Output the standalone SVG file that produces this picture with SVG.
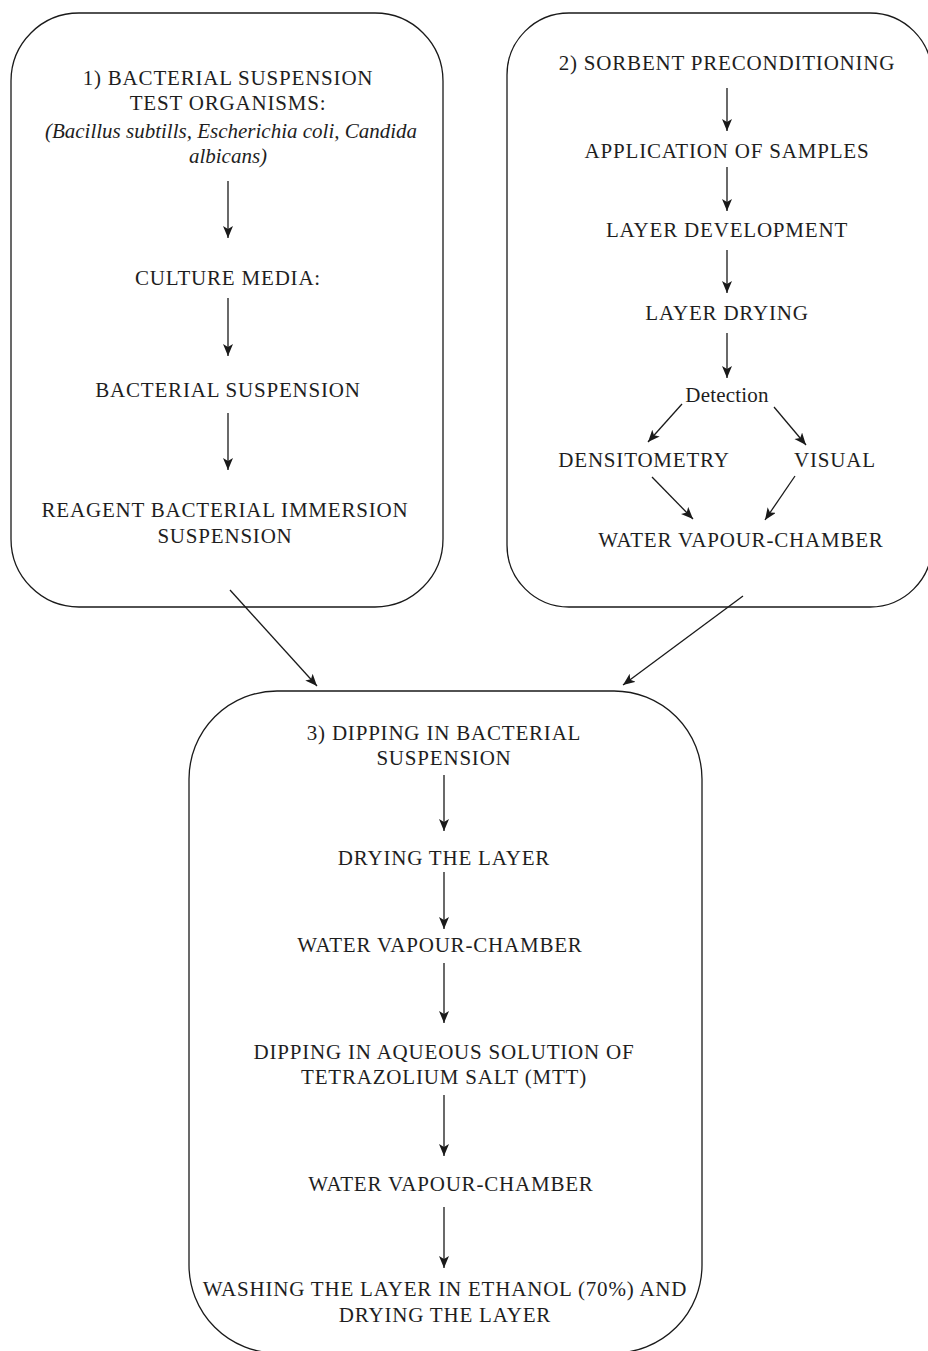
<svg xmlns="http://www.w3.org/2000/svg" width="928" height="1351" viewBox="0 0 928 1351">
<style>
.box{fill:none;stroke:#1a1a1a;stroke-width:1.3}
.t{font-family:"Liberation Serif","Times New Roman",serif;font-size:21px;fill:#1e1e1e;text-anchor:middle;letter-spacing:0.8px}
.it{font-style:italic;letter-spacing:0px}
.det{letter-spacing:0.2px}
.c{stroke:#1a1a1a;stroke-width:1.3;fill:none;marker-end:url(#ah)}
</style>
<defs>
<marker id="ah" markerUnits="userSpaceOnUse" markerWidth="14" markerHeight="12" refX="12" refY="5" orient="auto">
<path d="M0,0 L12,5 L0,10 L3,5 z" fill="#1a1a1a"/>
</marker>
</defs>
<g id="box1">
<rect class="box" x="11" y="13" width="432" height="594" rx="68" ry="68"/>
<text class="t" x="228" y="85">1) BACTERIAL SUSPENSION</text>
<text class="t" x="228" y="110">TEST ORGANISMS:</text>
<text class="t it" x="231" y="138">(Bacillus subtills, Escherichia coli, Candida</text>
<text class="t it" x="228" y="163">albicans)</text>
<text class="t" x="228" y="285">CULTURE MEDIA:</text>
<text class="t" x="228" y="397">BACTERIAL SUSPENSION</text>
<text class="t" x="225" y="517">REAGENT BACTERIAL IMMERSION</text>
<text class="t" x="225" y="543">SUSPENSION</text>
</g>
<g id="box2">
<rect class="box" x="507" y="13" width="425" height="594" rx="62" ry="62"/>
<text class="t" x="727" y="70">2) SORBENT PRECONDITIONING</text>
<text class="t" x="727" y="158">APPLICATION OF SAMPLES</text>
<text class="t" x="727" y="237">LAYER DEVELOPMENT</text>
<text class="t" x="727" y="320">LAYER DRYING</text>
<text class="t det" x="727" y="402">Detection</text>
<text class="t" x="644" y="467">DENSITOMETRY</text>
<text class="t" x="835" y="467">VISUAL</text>
<text class="t" x="741" y="547">WATER VAPOUR-CHAMBER</text>
</g>
<g id="box3">
<rect class="box" x="189" y="691" width="513" height="662" rx="88" ry="88"/>
<text class="t" x="444" y="740">3) DIPPING IN BACTERIAL</text>
<text class="t" x="444" y="765">SUSPENSION</text>
<text class="t" x="444" y="865">DRYING THE LAYER</text>
<text class="t" x="440" y="952">WATER VAPOUR-CHAMBER</text>
<text class="t" x="444" y="1059">DIPPING IN AQUEOUS SOLUTION OF</text>
<text class="t" x="444" y="1084">TETRAZOLIUM SALT (MTT)</text>
<text class="t" x="451" y="1191">WATER VAPOUR-CHAMBER</text>
<text class="t" x="445" y="1296">WASHING THE LAYER IN ETHANOL (70%) AND</text>
<text class="t" x="445" y="1322">DRYING THE LAYER</text>
</g>
<g id="connectors">
<line class="c" x1="228" y1="181" x2="228" y2="238"/>
<line class="c" x1="228" y1="298" x2="228" y2="356"/>
<line class="c" x1="228" y1="413" x2="228" y2="470"/>
<line class="c" x1="727" y1="88" x2="727" y2="131"/>
<line class="c" x1="727" y1="167" x2="727" y2="211"/>
<line class="c" x1="727" y1="250" x2="727" y2="293"/>
<line class="c" x1="727" y1="333" x2="727" y2="378"/>
<line class="c" x1="682" y1="404" x2="648" y2="442"/>
<line class="c" x1="774" y1="407" x2="806" y2="445"/>
<line class="c" x1="652" y1="477" x2="693" y2="519"/>
<line class="c" x1="795" y1="476" x2="765" y2="520"/>
<line class="c" x1="230" y1="590" x2="317" y2="686"/>
<line class="c" x1="743" y1="596" x2="623" y2="685"/>
<line class="c" x1="444" y1="775" x2="444" y2="831"/>
<line class="c" x1="444" y1="872" x2="444" y2="929"/>
<line class="c" x1="444" y1="963" x2="444" y2="1023"/>
<line class="c" x1="444" y1="1095" x2="444" y2="1156"/>
<line class="c" x1="444" y1="1207" x2="444" y2="1268"/>
</g>
</svg>
